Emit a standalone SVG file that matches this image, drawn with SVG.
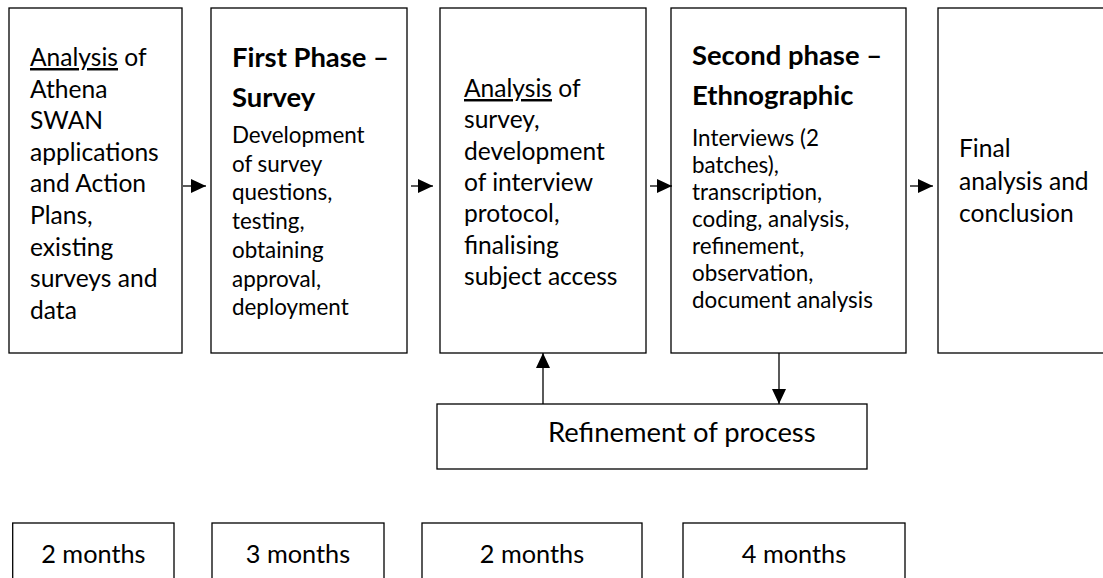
<svg xmlns="http://www.w3.org/2000/svg" width="1103" height="578" viewBox="0 0 1103 578">
<style>
.box{fill:#fff;stroke:#000;stroke-width:1.3}
.t{font-family:Lato,"Open Sans",sans-serif;fill:#000}
.b26{font-size:24.6px}
.b24{font-size:22.4px}
.h{font-size:27.4px;font-weight:bold}
.u{text-decoration:underline}
.c{stroke:#000;stroke-width:1.3;fill:none}
</style>
<defs>
<marker id="ah" markerUnits="userSpaceOnUse" markerWidth="16" markerHeight="14" refX="15" refY="7" orient="auto">
<path d="M0,0 L15,7 L0,14 Z" fill="#000"/>
</marker>
</defs>
<rect width="1103" height="578" fill="#fff"/>
<g id="n1">
<rect class="box" x="9" y="8" width="173" height="345"/>
<text class="t b26" x="30"><tspan x="30" y="66"><tspan class="u">Analysis</tspan> of</tspan><tspan x="30" y="97.6">Athena</tspan><tspan x="30" y="129.2">SWAN</tspan><tspan x="30" y="160.8">applications</tspan><tspan x="30" y="192.4">and Action</tspan><tspan x="30" y="224">Plans,</tspan><tspan x="30" y="255.6">existing</tspan><tspan x="30" y="287.2">surveys and</tspan><tspan x="30" y="318.8">data</tspan></text>
</g>
<g id="n2">
<rect class="box" x="211" y="8" width="196" height="345"/>
<text class="t h"><tspan x="232" y="67">First Phase –</tspan><tspan x="232" y="107">Survey</tspan></text>
<text class="t b24"><tspan x="232" y="143">Development</tspan><tspan x="232" y="171.7">of survey</tspan><tspan x="232" y="200.4">questions,</tspan><tspan x="232" y="229.1">testing,</tspan><tspan x="232" y="257.8">obtaining</tspan><tspan x="232" y="286.5">approval,</tspan><tspan x="232" y="315.2">deployment</tspan></text>
</g>
<g id="n3">
<rect class="box" x="440" y="8" width="206" height="345"/>
<text class="t b26"><tspan x="464" y="97"><tspan class="u">Analysis</tspan> of</tspan><tspan x="464" y="128.3">survey,</tspan><tspan x="464" y="159.6">development</tspan><tspan x="464" y="190.9">of interview</tspan><tspan x="464" y="222.2">protocol,</tspan><tspan x="464" y="253.5">finalising</tspan><tspan x="464" y="284.8">subject access</tspan></text>
</g>
<g id="n4">
<rect class="box" x="671" y="8" width="235" height="345"/>
<text class="t h"><tspan x="692" y="65">Second phase –</tspan><tspan x="692" y="105">Ethnographic</tspan></text>
<text class="t b24"><tspan x="692" y="146">Interviews (2</tspan><tspan x="692" y="173">batches),</tspan><tspan x="692" y="200">transcription,</tspan><tspan x="692" y="227">coding, analysis,</tspan><tspan x="692" y="254">refinement,</tspan><tspan x="692" y="281">observation,</tspan><tspan x="692" y="308">document analysis</tspan></text>
</g>
<g id="n5">
<rect class="box" x="938" y="8" width="180" height="345"/>
<text class="t b26"><tspan x="959" y="157">Final</tspan><tspan x="959" y="189.5">analysis and</tspan><tspan x="959" y="222">conclusion</tspan></text>
</g>
<g id="n6">
<rect class="box" x="437" y="404" width="430" height="65"/>
<text class="t" font-size="27.4" x="548" y="442">Refinement of process</text>
</g>
<g id="d1">
<rect class="box" x="12.7" y="523" width="161.3" height="80"/>
<text class="t" font-size="25.3" x="93.4" y="563" text-anchor="middle">2 months</text>
</g>
<g id="d2">
<rect class="box" x="212" y="523" width="172" height="80"/>
<text class="t" font-size="25.3" x="298" y="563" text-anchor="middle">3 months</text>
</g>
<g id="d3">
<rect class="box" x="422" y="523" width="220" height="80"/>
<text class="t" font-size="25.3" x="532" y="563" text-anchor="middle">2 months</text>
</g>
<g id="d4">
<rect class="box" x="683" y="523" width="222" height="80"/>
<text class="t" font-size="25.3" x="794" y="563" text-anchor="middle">4 months</text>
</g>
<g id="connectors">
<line class="c" x1="183" y1="186" x2="206" y2="186" marker-end="url(#ah)"/>
<line class="c" x1="411" y1="186" x2="433" y2="186" marker-end="url(#ah)"/>
<line class="c" x1="650" y1="186" x2="672" y2="186" marker-end="url(#ah)"/>
<line class="c" x1="910" y1="186" x2="933" y2="186" marker-end="url(#ah)"/>
<line class="c" x1="543" y1="404" x2="543" y2="353" marker-end="url(#ah)"/>
<line class="c" x1="779" y1="353" x2="779" y2="404" marker-end="url(#ah)"/>
</g>
</svg>
